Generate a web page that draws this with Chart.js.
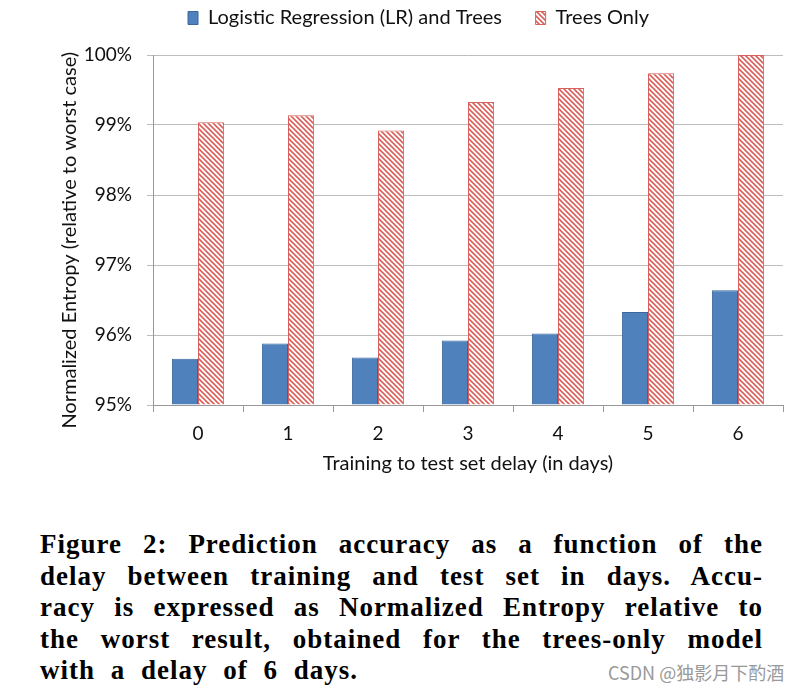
<!DOCTYPE html>
<html>
<head>
<meta charset="utf-8">
<script src="https://cdn.jsdelivr.net/npm/chart.js@4/dist/chart.umd.min.js"></script>
<style>
  body { margin: 0; background: #fff; width: 811px; height: 694px; overflow: hidden; position: relative; }
  #wrap { position: absolute; left: 0; top: 0; width: 811px; height: 490px; }
  #caption { position: absolute; left: 40px; top: 529px; width: 723px;
    font-family: "Liberation Serif", serif; font-weight: bold; font-size: 27px; line-height: 31.5px;
    letter-spacing: 1px; color: #000; }
  #caption div { text-align: justify; text-align-last: justify; white-space: nowrap; }
  #caption div.last { text-align-last: left; word-spacing: 8px; }
  #mark { position: absolute; left: 608px; top: 659px; font-family: "Noto Sans CJK SC", sans-serif;
    font-size: 18px; color: #999; }
</style>
</head>
<body>
<div id="wrap"><canvas id="chart" width="811" height="490"></canvas></div>
<div id="caption">
  <div>Figure 2: Prediction accuracy as a function of the</div>
  <div>delay between training and test set in days. Accu-</div>
  <div>racy is expressed as Normalized Entropy relative to</div>
  <div>the worst result, obtained for the trees-only model</div>
  <div class="last">with a delay of 6 days.</div>
</div>
<div id="mark">CSDN @独影月下酌酒</div>
<script>
const delays = ['0', '1', '2', '3', '4', '5', '6'];
const lrAndTrees = [95.66, 95.88, 95.68, 95.92, 96.02, 96.33, 96.64];
const treesOnly = [99.04, 99.14, 98.92, 99.33, 99.53, 99.74, 100];
const yTicks = [95, 96, 97, 98, 99, 100];

function stripePattern(color) {
    const c = document.createElement('canvas');
    c.width = 5;
    c.height = 5;
    const ctx = c.getContext('2d');
    ctx.fillStyle = '#fff';
    ctx.fillRect(0, 0, 5, 5);
    ctx.strokeStyle = color;
    ctx.lineWidth = 1.6;
    ctx.beginPath();
    ctx.moveTo(-1, -1); ctx.lineTo(6, 6);
    ctx.moveTo(-1, 4); ctx.lineTo(1, 6);
    ctx.moveTo(4, -1); ctx.lineTo(6, 1);
    ctx.stroke();
    return ctx.createPattern(c, 'repeat');
}

// legend sits higher than chart.js puts it, so pad below it
const legendGap = {
    id: 'legendGap',
    beforeInit(chart) {
        const fit = chart.legend.fit;
        chart.legend.fit = function () {
            fit.call(this);
            this.height += 17;
        };
    }
};

const FONT = 'Lato, "Open Sans", sans-serif';
Chart.defaults.font.family = FONT;
Chart.defaults.color = '#111';

new Chart(document.getElementById('chart').getContext('2d'), {
    type: 'bar',
    data: {
        labels: delays,
        datasets: [{
            label: 'Logistic Regression (LR) and Trees',
            data: lrAndTrees,
            backgroundColor: '#4f81bd',
            borderColor: '#3a679c',
            borderWidth: 1,
            base: 95
        }, {
            label: 'Trees Only',
            data: treesOnly,
            backgroundColor: stripePattern('#d9605c'),
            borderColor: '#d9605c',
            borderWidth: 1,
            base: 95
        }]
    },
    plugins: [legendGap],
    options: {
        responsive: false,
        animation: false,
        layout: { padding: { left: 54, right: 28, top: 0, bottom: 10 } },
        datasets: { bar: { categoryPercentage: 0.58, barPercentage: 1 } },
        plugins: {
            tooltip: { enabled: false },
            legend: {
                position: 'top',
                labels: {
                    boxWidth: 10,
                    boxHeight: 13,
                    font: { size: 20 },
                    padding: 8,
                    generateLabels: chart => {
                        const items = Chart.defaults.plugins.legend.labels.generateLabels(chart);
                        // wider gap between the two entries
                        items[0].text += '     ';
                        return items;
                    }
                }
            }
        },
        scales: {
            x: {
                grid: { offset: true, drawOnChartArea: false, color: '#999', tickLength: 7 },
                border: { color: '#999' },
                ticks: { font: { size: 19 }, padding: 10 },
                title: { display: true, text: 'Training to test set delay (in days)', font: { size: 20 }, padding: { top: 2 } },
                afterFit: s => { s.height = 75; }
            },
            y: {
                min: 95,
                max: 100,
                afterBuildTicks: s => { s.ticks = yTicks.map(v => ({ value: v })); },
                grid: { color: '#bdbdbd', tickLength: 6 },
                border: { color: '#999' },
                ticks: { font: { size: 19 }, padding: 15, callback: v => v + '%' },
                // trailing spaces nudge the rotated title down a little
                title: { display: true, text: 'Normalized Entropy (relative to worst case)    ', font: { size: 20 }, padding: { bottom: 2 } },
                afterFit: s => { s.width = 99; }
            }
        }
    }
});
</script>
</body>
</html>
